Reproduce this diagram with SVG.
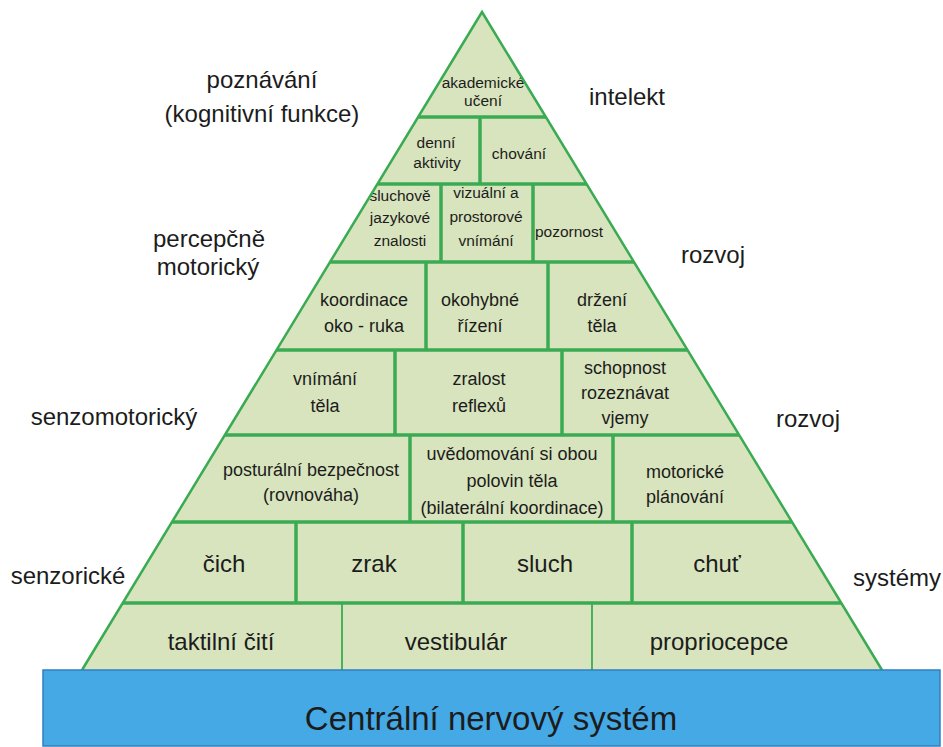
<svg xmlns="http://www.w3.org/2000/svg" width="943" height="747" viewBox="0 0 943 747">
<style>
  text { font-family: "Liberation Sans", Arial, sans-serif; fill: #1c1c1c; text-anchor: middle; }
  .side { font-size: 24px; }
  .s16 { font-size: 15.5px; }
  .s18 { font-size: 18px; }
  .s24 { font-size: 24px; }
  .cell { fill: #d8e4bd; stroke: none; }
  .ln { stroke: #3aab53; stroke-width: 3.5; fill: none; stroke-linecap: butt; }
  .thin { stroke: #3aab53; stroke-width: 1.8; fill: none; }
  .edge { stroke: #3aab53; stroke-width: 2.5; fill: none; stroke-linejoin: miter; }
</style>
<rect x="0" y="0" width="943" height="747" fill="#ffffff"/>

<!-- side labels -->
<g id="labels">
  <text class="side" x="262" y="88">poznávání</text>
  <text class="side" x="262" y="122">(kognitivní funkce)</text>
  <text class="side" x="627" y="105">intelekt</text>
  <text class="side" x="209" y="247">percepčně</text>
  <text class="side" x="208" y="275">motorický</text>
  <text class="side" x="713" y="263">rozvoj</text>
  <text class="side" x="114" y="425">senzomotorický</text>
  <text class="side" x="808" y="427">rozvoj</text>
  <text class="side" x="68" y="584">senzorické</text>
  <text class="side" x="897" y="586">systémy</text>
</g>

<!-- row 1 -->
<g id="akademicke-uceni">
  <polygon class="cell" points="482,12 418.2,117 545.8,117"/>
  <text class="s16" x="483" y="88">akademické</text>
  <text class="s16" x="483" y="106">učení</text>
</g>
<!-- row 2 -->
<g id="denni-aktivity">
  <polygon class="cell" points="418.2,117 480,117 480,184 377.4,184"/>
  <text class="s16" x="436" y="148">denní</text>
  <text class="s16" x="437" y="168">aktivity</text>
</g>
<g id="chovani">
  <polygon class="cell" points="480,117 545.8,117 586.6,184 480,184"/>
  <text class="s16" x="519" y="159">chování</text>
</g>
<!-- row 3 -->
<g id="sluchove-jazykove">
  <polygon class="cell" points="377.4,184 441,184 441,262 330,262"/>
  <text class="s16" x="400" y="201">sluchově</text>
  <text class="s16" x="400" y="223">jazykové</text>
  <text class="s16" x="400" y="246">znalosti</text>
</g>
<g id="vizualni-prostorove">
  <polygon class="cell" points="441,184 533,184 533,262 441,262"/>
  <text class="s16" x="486" y="198">vizuální  a</text>
  <text class="s16" x="486" y="222">prostorové</text>
  <text class="s16" x="486" y="246">vnímání</text>
</g>
<g id="pozornost">
  <polygon class="cell" points="533,184 586.6,184 634,262 533,262"/>
  <text class="s16" x="569" y="237">pozornost</text>
</g>
<!-- row 4 -->
<g id="koordinace">
  <polygon class="cell" points="330,262 426,262 426,350 276.5,350"/>
  <text class="s18" x="364" y="306">koordinace</text>
  <text class="s18" x="364" y="332">oko - ruka</text>
</g>
<g id="okohybne">
  <polygon class="cell" points="426,262 548,262 548,350 426,350"/>
  <text class="s18" x="480" y="306">okohybné</text>
  <text class="s18" x="480" y="332">řízení</text>
</g>
<g id="drzeni">
  <polygon class="cell" points="548,262 634,262 687.5,350 548,350"/>
  <text class="s18" x="602" y="306">držení</text>
  <text class="s18" x="602" y="332">těla</text>
</g>
<!-- row 5 -->
<g id="vnimani-tela">
  <polygon class="cell" points="276.5,350 395,350 395,435 225,435"/>
  <text class="s18" x="325" y="385">vnímání</text>
  <text class="s18" x="325" y="412">těla</text>
</g>
<g id="zralost-reflexu">
  <polygon class="cell" points="395,350 562,350 562,435 395,435"/>
  <text class="s18" x="479" y="385">zralost</text>
  <text class="s18" x="479" y="412">reflexů</text>
</g>
<g id="schopnost">
  <polygon class="cell" points="562,350 687.5,350 739,435 562,435"/>
  <text class="s18" x="625" y="374">schopnost</text>
  <text class="s18" x="625" y="399">rozeznávat</text>
  <text class="s18" x="625" y="424">vjemy</text>
</g>
<!-- row 6 -->
<g id="posturalni">
  <polygon class="cell" points="225,435 410,435 410,522 172,522"/>
  <text class="s18" x="311" y="476">posturální  bezpečnost</text>
  <text class="s18" x="311" y="501">(rovnováha)</text>
</g>
<g id="uvedomovani">
  <polygon class="cell" points="410,435 613,435 613,522 410,522"/>
  <text class="s18" x="512" y="460">uvědomování  si obou</text>
  <text class="s18" x="512" y="487">polovin  těla</text>
  <text class="s18" x="512" y="514">(bilaterální  koordinace)</text>
</g>
<g id="motoricke-planovani">
  <polygon class="cell" points="613,435 739,435 792,522 613,522"/>
  <text class="s18" x="685" y="478">motorické</text>
  <text class="s18" x="685" y="503">plánování</text>
</g>
<!-- row 7 -->
<g id="cich">
  <polygon class="cell" points="172,522 296,522 296,603 123,603"/>
  <text class="s24" x="224" y="572">čich</text>
</g>
<g id="zrak">
  <polygon class="cell" points="296,522 463,522 463,603 296,603"/>
  <text class="s24" x="374" y="572">zrak</text>
</g>
<g id="sluch">
  <polygon class="cell" points="463,522 632,522 632,603 463,603"/>
  <text class="s24" x="545" y="572">sluch</text>
</g>
<g id="chut">
  <polygon class="cell" points="632,522 792,522 841,603 632,603"/>
  <text class="s24" x="717" y="572">chuť</text>
</g>
<!-- row 8 -->
<g id="taktilni-citi">
  <polygon class="cell" points="123,603 342,603 342,670 82,670"/>
  <text class="s24" x="221" y="650">taktilní čití</text>
</g>
<g id="vestibular">
  <polygon class="cell" points="342,603 592,603 592,670 342,670"/>
  <text class="s24" x="456" y="650">vestibulár</text>
</g>
<g id="propriocepce">
  <polygon class="cell" points="592,603 841,603 882,670 592,670"/>
  <text class="s24" x="719" y="650">propriocepce</text>
</g>

<!-- dividing lines -->
<g id="connectors">
  <polyline class="edge" points="82,670 482,12 882,670"/>
  <line class="ln" x1="418.2" y1="117" x2="545.8" y2="117"/>
  <line class="ln" x1="377.4" y1="184" x2="586.6" y2="184"/>
  <line class="ln" x1="330" y1="262" x2="634" y2="262"/>
  <line class="ln" x1="276.5" y1="350" x2="687.5" y2="350"/>
  <line class="ln" x1="225" y1="435" x2="739" y2="435"/>
  <line class="ln" x1="172" y1="522" x2="792" y2="522"/>
  <line class="ln" x1="123" y1="603" x2="841" y2="603"/>
  <line class="ln" x1="480" y1="117" x2="480" y2="184"/>
  <line class="ln" x1="441" y1="184" x2="441" y2="262"/>
  <line class="ln" x1="533" y1="184" x2="533" y2="262"/>
  <line class="ln" x1="426" y1="262" x2="426" y2="350"/>
  <line class="ln" x1="548" y1="262" x2="548" y2="350"/>
  <line class="ln" x1="395" y1="350" x2="395" y2="435"/>
  <line class="ln" x1="562" y1="350" x2="562" y2="435"/>
  <line class="ln" x1="410" y1="435" x2="410" y2="522"/>
  <line class="ln" x1="613" y1="435" x2="613" y2="522"/>
  <line class="ln" x1="296" y1="522" x2="296" y2="603"/>
  <line class="ln" x1="463" y1="522" x2="463" y2="603"/>
  <line class="ln" x1="632" y1="522" x2="632" y2="603"/>
  <line class="thin" x1="342" y1="603" x2="342" y2="670"/>
  <line class="thin" x1="592" y1="603" x2="592" y2="670"/>
</g>

<!-- base -->
<g id="cns">
  <rect x="43" y="670" width="897" height="76" fill="#45a9e6" stroke="#2f7fbf" stroke-width="1.5"/>
  <text x="491" y="730" style="font-size:33px">Centrální  nervový  systém</text>
</g>
</svg>
